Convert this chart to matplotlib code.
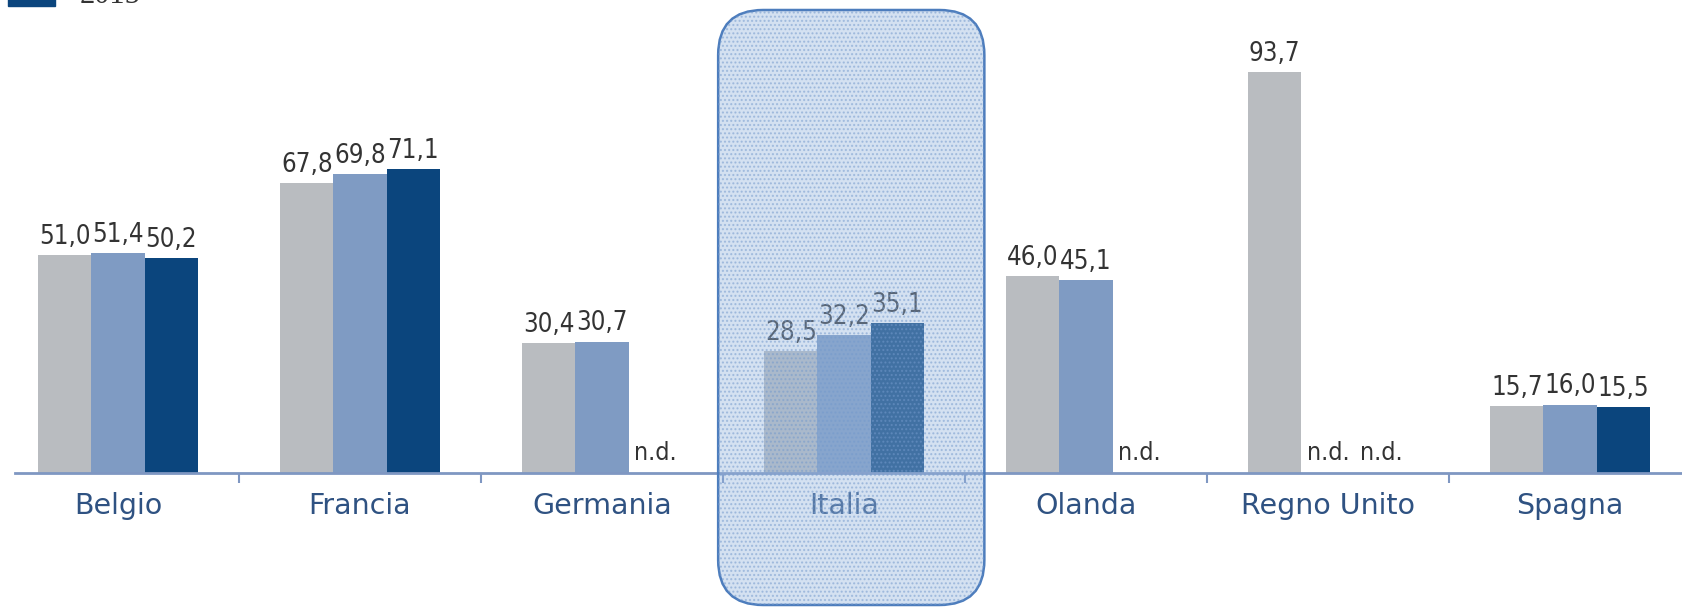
import numpy as np
import matplotlib
matplotlib.use("Agg")
import matplotlib.pyplot as plt
from matplotlib.patches import FancyBboxPatch, Rectangle

# data (None = n.d.)
paesi = ["Belgio", "Francia", "Germania", "Italia", "Olanda", "Regno Unito", "Spagna"]
anni = ["2013", "2014", "2015"]
v2013 = [51.0, 67.8, 30.4, 28.5, 46.0, 93.7, 15.7]
v2014 = [51.4, 69.8, 30.7, 32.2, 45.1, None, 16.0]
v2015 = [50.2, 71.1, None, 35.1, None, None, 15.5]
colori = ["#b9bcc0", "#7f9bc3", "#0b457d"]

plt.rcParams['font.family'] = ['DejaVu Sans']

W, H = 1683, 608
fig = plt.figure(figsize=(W / 100, H / 100), dpi=100)
# axes: baseline 473 px from top, from x=15 px to the right edge
ax = fig.add_axes([15 / W, (H - 473) / H, (W - 15) / W, 473 / H])

x = np.arange(len(paesi))
bw = 0.22
serie = [v2013, v2014, v2015]
for k, vals in enumerate(serie):
    off = (k - 1) * bw
    for i, v in enumerate(vals):
        if v is None:
            ax.text(x[i] + off, 3.0, "n.d.", ha='center', va='baseline',
                    fontsize=18, color='#333333', stretch='condensed')
            continue
        ax.bar(x[i] + off, v, width=bw, color=colori[k], zorder=2)
        ax.text(x[i] + off, v + 1.2, ("%.1f" % v).replace(".", ","),
                ha='center', va='bottom', fontsize=18.5, color='#333333',
                stretch='condensed')

ax.set_xlim((15 - 118) / 242, (W - 118) / 242)
ax.set_ylim(0, 473 / 4.28)

for s in ['top', 'right', 'left']:
    ax.spines[s].set_visible(False)
ax.spines['bottom'].set_color('#7f97c2')
ax.spines['bottom'].set_linewidth(2)
ax.set_yticks([])
ax.set_xticks(x[:-1] + 0.5)
ax.set_xticklabels([])
ax.tick_params(axis='x', direction='out', length=7, width=1.5, color='#7f97c2')
for i, p in enumerate(paesi):
    ax.text(x[i], -4.5, p, ha='center', va='top', fontsize=20.5, color='#2f5282')

# highlight box around Italia
fig.canvas.draw()
px0 = ax.transData.transform((2.48, 0))[0]
px1 = ax.transData.transform((3.58, 0))[0]
box = FancyBboxPatch((px0 / 100, 0.03), (px1 - px0) / 100, 5.95,
                     boxstyle="round,pad=0,rounding_size=0.45",
                     transform=fig.dpi_scale_trans, facecolor=(0.58, 0.71, 0.87, 0.4),
                     edgecolor='#4d7dbd', linewidth=1.8, zorder=5)
fig.patches.append(box)
dots = FancyBboxPatch((px0 / 100, 0.03), (px1 - px0) / 100, 5.95,
                      boxstyle="round,pad=0,rounding_size=0.45",
                      transform=fig.dpi_scale_trans, facecolor='none',
                      edgecolor=(0.45, 0.6, 0.8, 0.5), linewidth=0, hatch='....', zorder=6)
fig.patches.append(dots)

# legend cut at the top of the picture
fig.patches.append(Rectangle((8 / W, (H - 6) / H), 47 / W, 20 / H,
                             transform=fig.transFigure, color=colori[2]))
fig.text(80 / W, (H - 10) / H, anni[2], fontsize=22, color='#333333',
         family='Liberation Serif', va='bottom')

fig.savefig("out.png", dpi=100)
